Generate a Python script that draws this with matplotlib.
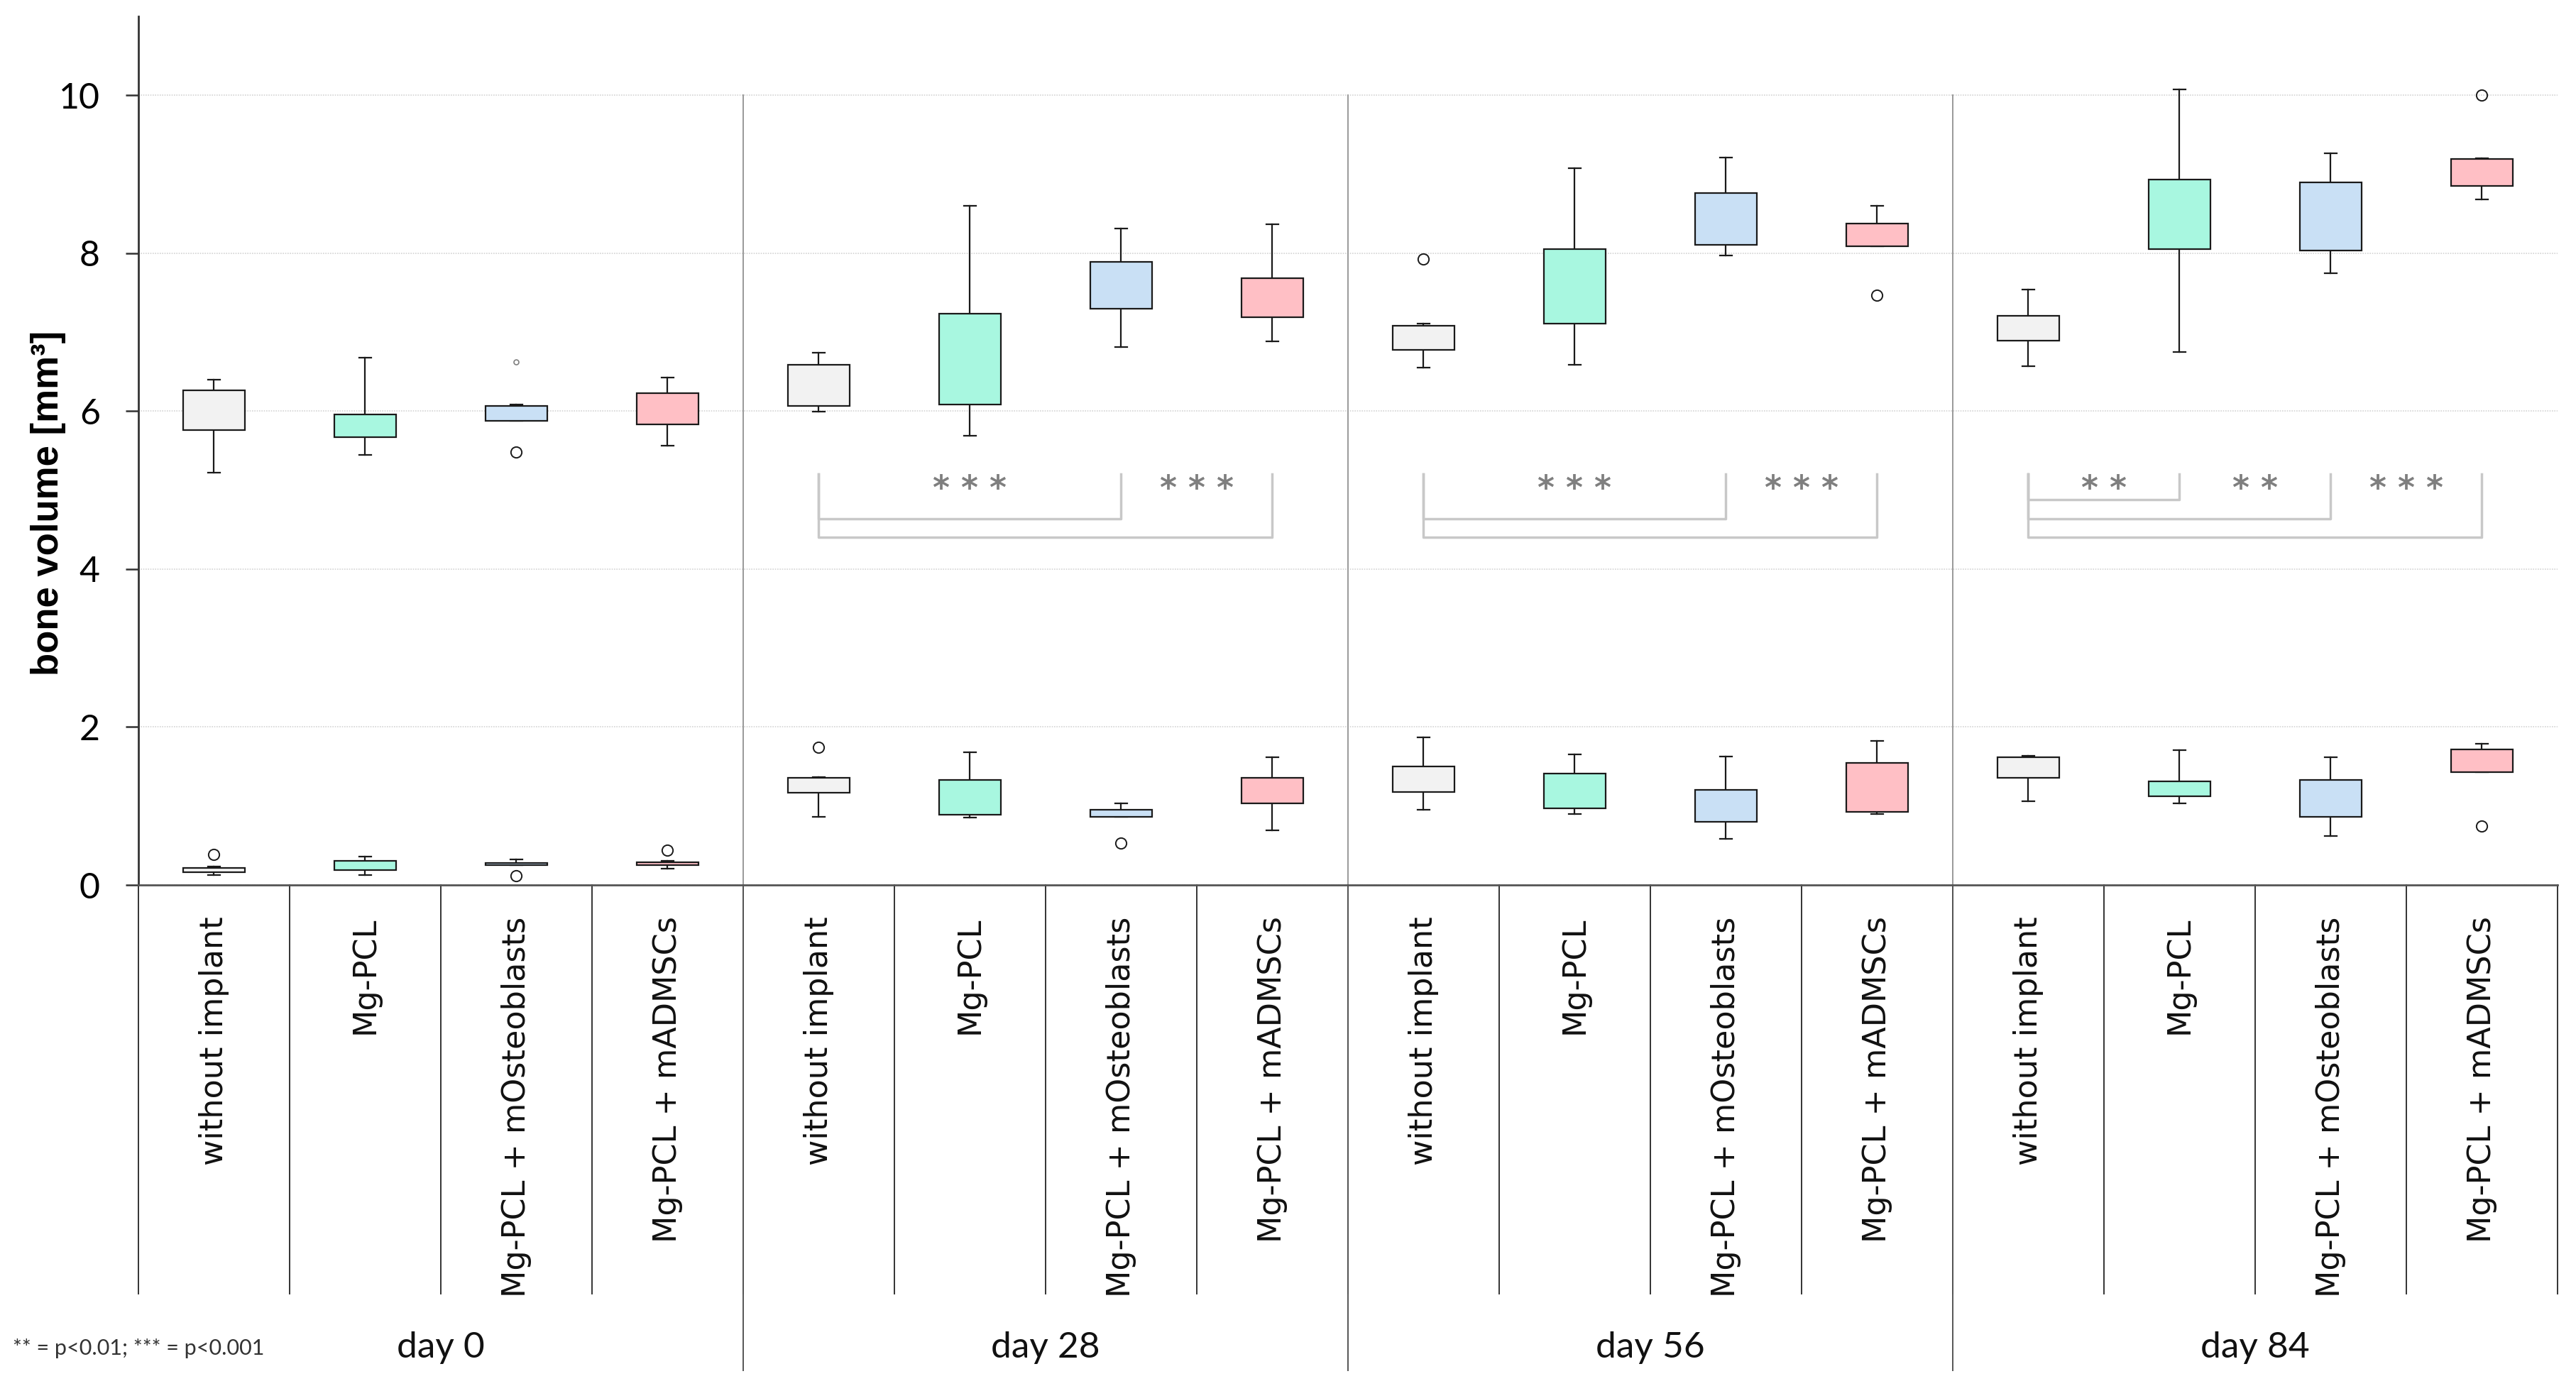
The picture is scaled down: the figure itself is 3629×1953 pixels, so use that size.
import numpy as np
import matplotlib
matplotlib.use("Agg")
import matplotlib.pyplot as plt

# groups / time points
groups = ["without implant", "Mg-PCL", "Mg-PCL + mOsteoblasts", "Mg-PCL + mADMSCs"]
days = ["day 0", "day 28", "day 56", "day 84"]
group_colors = ["#f2f2f2", "#a8f7e0", "#c9e0f5", "#ffbfc5"]

# upper box set (16 boxes: day 0..84 x 4 groups)
up_whislo = [5.22, 5.45, 5.88, 5.56,  5.99, 5.69, 6.81, 6.88,  6.55, 6.59, 7.97, 8.09,  6.57, 6.75, 7.75, 8.68]
up_q1     = [5.76, 5.67, 5.88, 5.83,  6.07, 6.08, 7.30, 7.19,  6.78, 7.11, 8.11, 8.09,  6.89, 8.05, 8.03, 8.85]
up_med    = [6.08, 5.74, 5.99, 5.99,  6.25, 6.62, 7.57, 7.49,  6.97, 7.47, 8.43, 8.15,  7.00, 8.60, 8.60, 9.18]
up_q3     = [6.26, 5.96, 6.07, 6.23,  6.59, 7.23, 7.89, 7.68,  7.08, 8.05, 8.76, 8.38,  7.21, 8.93, 8.90, 9.19]
up_whishi = [6.40, 6.68, 6.08, 6.43,  6.74, 8.60, 8.31, 8.37,  7.11, 9.08, 9.21, 8.60,  7.54, 10.07, 9.27, 9.20]
up_fliers = [[], [], [5.48], [],  [], [], [], [],  [7.93], [], [], [7.47],  [], [], [], [10.0]]
# one tiny grey outlier at day 0, Mg-PCL + mOsteoblasts
small_flier_pos = [2]
small_flier_val = [6.62]

# lower box set
lo_whislo = [0.13, 0.13, 0.25, 0.21,  0.86, 0.85, 0.86, 0.69,  0.95, 0.90, 0.58, 0.90,  1.06, 1.03, 0.62, 1.43]
lo_q1     = [0.16, 0.19, 0.25, 0.25,  1.17, 0.89, 0.86, 1.03,  1.18, 0.97, 0.80, 0.93,  1.36, 1.12, 0.86, 1.43]
lo_med    = [0.19, 0.25, 0.26, 0.27,  1.27, 1.10, 0.90, 1.28,  1.30, 1.18, 1.09, 1.46,  1.46, 1.16, 1.32, 1.59]
lo_q3     = [0.22, 0.31, 0.28, 0.29,  1.36, 1.33, 0.95, 1.36,  1.50, 1.41, 1.20, 1.55,  1.62, 1.31, 1.33, 1.72]
lo_whishi = [0.23, 0.36, 0.32, 0.31,  1.37, 1.68, 1.03, 1.62,  1.87, 1.65, 1.63, 1.82,  1.64, 1.71, 1.62, 1.79]
lo_fliers = [[0.39], [], [0.12], [0.44],  [1.74], [], [0.53], [],  [], [], [], [],  [], [], [], [0.75]]

# significance brackets: (day index, end group, line level, label)
sig_day = [1, 1, 2, 2, 3, 3, 3]
sig_end = [2, 3, 2, 3, 1, 2, 3]
sig_line = [4.64, 4.40, 4.64, 4.40, 4.88, 4.64, 4.40]
sig_text = ["***", "***", "***", "***", "**", "**", "***"]
sig_top = 5.20
sig_star_y = 5.00

footnote = "** = p<0.01; *** = p<0.001"

narrow = ["Lato", "DejaVu Sans"]

fig = plt.figure(figsize=(36.3, 19.53), dpi=100)
ax = fig.add_axes([195 / 3630, 1 - 1247 / 1953, 3408 / 3630, (1247 - 23) / 1953])

ngroups = len(groups)
npos = len(days) * ngroups
pos = np.arange(npos)


def make_stats(wl, q1, med, q3, wh, fl):
    out = []
    for i in range(len(med)):
        out.append(dict(whislo=wl[i], q1=q1[i], med=med[i], q3=q3[i], whishi=wh[i], fliers=fl[i]))
    return out


props = dict(widths=0.41, capwidths=0.08, patch_artist=True, manage_ticks=False,
             boxprops=dict(linewidth=1.6, edgecolor="#1a1a1a"),
             medianprops=dict(color="#1a1a1a", linewidth=1.6),
             whiskerprops=dict(color="#1a1a1a", linewidth=1.6),
             capprops=dict(color="#1a1a1a", linewidth=1.6),
             flierprops=dict(marker="o", markerfacecolor="none", markeredgecolor="#1a1a1a",
                             markersize=11, markeredgewidth=1.4))

for st in [make_stats(up_whislo, up_q1, up_med, up_q3, up_whishi, up_fliers),
           make_stats(lo_whislo, lo_q1, lo_med, lo_q3, lo_whishi, lo_fliers)]:
    res = ax.bxp(st, positions=pos, **props)
    for i, b in enumerate(res["boxes"]):
        b.set_facecolor(group_colors[i % ngroups])
        b.set_zorder(3)

ax.plot(small_flier_pos, small_flier_val, "o", mfc="none", mec="#808080", ms=5, mew=1.2, zorder=4)

# axes styling
ax.set_xlim(-0.5, npos - 0.5)
ax.set_ylim(0, 11)
ax.set_yticks([0, 2, 4, 6, 8, 10])
ax.set_xticks([])
ax.tick_params(axis="y", labelsize=36, length=13, width=1.8, color="#333333", pad=26)
for lbl in ax.get_yticklabels():
    lbl.set_family(narrow)
ax.yaxis.grid(True, color="#d4d4d4", linestyle=(0, (1, 1)), linewidth=1.2, zorder=0)
ax.set_axisbelow(True)
for s in ["top", "right"]:
    ax.spines[s].set_visible(False)
ax.spines["left"].set_color("#333333")
ax.spines["left"].set_linewidth(2)
ax.spines["bottom"].set_color("#555555")
ax.spines["bottom"].set_linewidth(2)
ax.set_ylabel("bone volume [mm³]", fontsize=38, fontweight="bold", family=["Liberation Sans", "DejaVu Sans"])
ax.yaxis.set_label_coords(-0.030, 0.44)

# table-like x area
cat_bottom = -(1824 - 1247) / 111.4
day_bottom = -(1932 - 1247) / 111.4
for b in np.arange(-0.5, npos, 1.0):
    ax.plot([b, b], [0, cat_bottom], color="#333333", lw=1.4, clip_on=False, zorder=1)
for d in range(1, len(days)):
    b = d * ngroups - 0.5
    ax.plot([b, b], [10, 0], color="#999999", lw=1.4, clip_on=False, zorder=1)
    ax.plot([b, b], [0, day_bottom], color="#555555", lw=1.4, clip_on=False, zorder=1)

for i in range(npos):
    ax.text(pos[i], -0.40, groups[i % ngroups], rotation=90, ha="center", va="top",
            fontsize=32, color="#111111", clip_on=False)
for d in range(len(days)):
    ax.text(d * ngroups + (ngroups - 1) / 2, -5.86, days[d], ha="center", va="center",
            fontsize=37, family=narrow, color="#111111", clip_on=False)

fig.text(18 / 3630, 1 - 1900 / 1953, footnote, ha="left", va="center", fontsize=22,
         family=narrow, color="#333333")

# significance brackets
br_col = "#c8c8c8"
for k in range(len(sig_day)):
    x0 = sig_day[k] * ngroups
    x1 = x0 + sig_end[k]
    ax.plot([x0, x0, x1, x1], [sig_top, sig_line[k], sig_line[k], sig_top], color=br_col, lw=2.5, zorder=2)
    prev = x0
    for j in range(len(sig_day)):
        if sig_day[j] == sig_day[k] and sig_end[j] < sig_end[k]:
            prev = max(prev, x0 + sig_end[j])
    ax.text((prev + x1) / 2, sig_star_y, " ".join(sig_text[k]), ha="center", va="center",
            fontsize=33, fontweight="bold", color="#7f7f7f", zorder=3)

fig.savefig("out.png", dpi=100, facecolor="white")
